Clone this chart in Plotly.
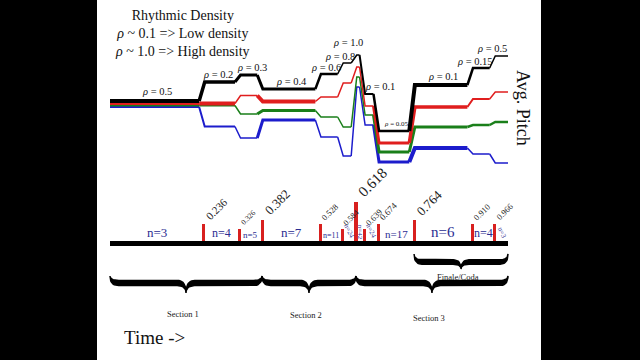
import plotly.graph_objects as go

# ---------------- data ----------------
# time boundaries (fraction of the piece) where the rhythmic density changes
bounds = [0.0, 0.236, 0.326, 0.382, 0.528, 0.584, 0.618, 0.639, 0.674, 0.764, 0.910, 0.966, 1.0]
marks = bounds[1:-1]
mark_labels = ["0.236", "0.326", "0.382", "0.528", "0.584", "0.618", "0.639", "0.674", "0.764", "0.910", "0.966"]
mark_heights = [18, 13, 22, 18, 13, 40, 13, 18, 22, 18, 18]

# rhythmic density per segment
rho_values = ["0.5", "0.2", "0.3", "0.4", "0.6", "0.8", "1.0", "0.1", "0.05", "0.1", "0.15", "0.5"]
# number of notes per segment
n_counts = ["3", "4", "5", "7", "11", "24", "42", "24", "17", "6", "4", "3"]

# average pitch of four voices per segment (screen rows, smaller = higher)
pitch_black = [101, 82, 75, 89, 74, 63, 55, 94, 131, 85, 68, 56]
pitch_red = [103.5, 103.5, 95.5, 101.5, 97, 83, 67, 106, 143, 107, 99, 92]
pitch_green = [105.5, 105.5, 114, 110.5, 117, 127, 77, 115, 152, 127, 125, 122]
pitch_blue = [107, 126.5, 138, 120, 137, 156, 87, 125, 162, 148, 154, 163]

sections = ["Section 1", "Section 2", "Section 3"]
section_bounds = [(0.0, 0.382), (0.382, 0.618), (0.618, 1.0)]
coda_label = "Finale/Coda"
coda_bounds = (0.764, 1.0)

# ---------------- styles ----------------
w_black = [4, 3.5, 3, 3, 2.5, 1.5, 1.5, 2, 2.5, 4, 2.5, 1.5]
w_red = [3, 4, 1.5, 4, 1.5, 1.5, 1.5, 1.5, 3, 3.5, 2, 1.5]
w_green = [2, 2, 1.5, 3, 1.5, 1.5, 1.5, 1.5, 3, 3, 2.5, 2.5]
w_blue = [2, 2, 1.5, 3, 1.5, 1.5, 1.5, 1.5, 3, 4, 1.5, 1.5]
rho_align = ["c", "c", "c", "c", "r", "r", "r", "l", "c", "c", "r", "r"]
rho_size = [10.5, 10.5, 10.5, 10.5, 10.5, 10.5, 10.5, 10.5, 7, 10.5, 10.5, 10.5]
rho_dy = [3, 1, 1, 1, 0, 0, 6, 1, 2, 2, 0, 1]
rho_dx = [0, -4, 1, 0, 0, 0, 0, 0, 0, 0, 0, 0]  # pixel nudges
mark_font = [11, 7.5, 13, 8.5, 8, 15, 8.5, 9, 13, 8.5, 8.5]
n_font = [13, 12, 9, 13, 8, 7, 7, 7, 11, 15, 12, 7]
n_angle = [0, 0, 0, 0, 0, 65, 90, 65, 0, 0, 0, 65]

SERIF = "Liberation Serif"
RED = "#d8201f"
NAVY = "#2b2d92"
AXIS_Y = 243.5
PX = 1 / 398.0  # one pixel in time-fraction units

fig = go.Figure()

# ---- pitch lines ----
t0, t1 = 0.012, 0.002
for color, ys, ws in [("#1c1ccc", pitch_blue, w_blue), ("#1a7f1a", pitch_green, w_green),
                      ("#e01e1e", pitch_red, w_red), ("#000000", pitch_black, w_black)]:
    nseg = len(ys)
    for i in range(nseg):
        xs, yy = [], []
        if i > 0:
            xs.append(bounds[i] - t0)
            yy.append(ys[i - 1])
            xs.append(bounds[i] + t1)
            yy.append(ys[i])
        else:
            xs.append(bounds[0])
            yy.append(ys[0])
        xs.append(bounds[i + 1] - (t0 if i < nseg - 1 else 0))
        yy.append(ys[i])
        fig.add_trace(go.Scatter(x=xs, y=yy, mode="lines",
                                 line=dict(color=color, width=ws[i]),
                                 hoverinfo="skip", showlegend=False))

# ---- time axis ----
fig.add_trace(go.Scatter(x=[bounds[0], bounds[-1]], y=[AXIS_Y, AXIS_Y], mode="lines",
                         line=dict(color="black", width=5), hoverinfo="skip", showlegend=False))

# ---- red marker bars ----
fig.add_trace(go.Bar(x=marks, y=[-h for h in mark_heights], base=AXIS_Y - 2,
                     width=[(4 if h >= 40 else 3) * PX for h in mark_heights],
                     marker=dict(color=RED, line=dict(width=0)), hoverinfo="skip", showlegend=False))

annotations = []

# mark labels (rotated)
for t, lab, h, fs in zip(marks, mark_labels, mark_heights, mark_font):
    annotations.append(dict(x=t - 2 * PX, y=AXIS_Y - 2 - h, text=lab, textangle=-45,
                            xanchor="left", yanchor="bottom", showarrow=False, borderpad=0,
                            font=dict(family=SERIF, size=fs, color="#222")))

# n labels
for i, n in enumerate(n_counts):
    xm = (bounds[i] + bounds[i + 1]) / 2
    annotations.append(dict(x=xm, y=AXIS_Y - 3, text="n=" + n, textangle=n_angle[i],
                            xanchor="center", yanchor="bottom", showarrow=False,
                            borderpad=0, font=dict(family=SERIF, size=n_font[i], color=NAVY)))

# rho labels
for i, r in enumerate(rho_values):
    a = rho_align[i]
    if a == "c":
        x, xa = (bounds[i] + bounds[i + 1]) / 2, "center"
    elif a == "r":
        x, xa = bounds[i + 1], "right"
    else:
        x, xa = bounds[i], "left"
    annotations.append(dict(x=x + rho_dx[i] * PX, y=pitch_black[i] - rho_dy[i], text="<i>ρ</i> = " + r,
                            xanchor=xa, yanchor="bottom", showarrow=False, borderpad=0,
                            font=dict(family=SERIF, size=rho_size[i], color="#111")))


# ---- braces ----
def brace(xa, xb, ytop, ymid, ybot, r=0.022, h=2.6):
    xc = (xa + xb) / 2

    def qb(p0, p1, p2, n=10):
        out = []
        for k in range(n + 1):
            s = k / n
            out.append(((1 - s) ** 2 * p0[0] + 2 * (1 - s) * s * p1[0] + s ** 2 * p2[0],
                        (1 - s) ** 2 * p0[1] + 2 * (1 - s) * s * p1[1] + s ** 2 * p2[1]))
        return out

    def edge(m):
        pts = []
        pts += qb((xa, ytop), (xa, ymid + m), (xa + r, ymid + m))
        pts += qb((xc - r, ymid + m), (xc, ymid + m), (xc, ybot))
        pts += qb((xc, ybot), (xc, ymid + m), (xc + r, ymid + m))
        pts += qb((xb - r, ymid + m), (xb, ymid + m), (xb, ytop))
        return pts

    lower = edge(h)
    upper = edge(-h)[::-1]
    pts = lower + upper + [lower[0]]
    return [p[0] for p in pts], [p[1] for p in pts]


for (a, b), name in zip(section_bounds, sections):
    bx, by = brace(a, b, 276, 283, 293)
    fig.add_trace(go.Scatter(x=bx, y=by, mode="lines", fill="toself", fillcolor="black",
                             line=dict(color="black", width=1.5), hoverinfo="skip", showlegend=False))
annotations_sec_y = [314, 315, 318]
for (a, b), name, yy in zip(section_bounds, sections, annotations_sec_y):
    annotations.append(dict(x=(a + b) / 2 - 3 * PX, y=yy, text=name, showarrow=False,
                            xanchor="center", yanchor="middle",
                            font=dict(family=SERIF, size=8.5, color="#222")))

bx, by = brace(coda_bounds[0], coda_bounds[1], 254, 262, 269, r=0.02, h=2.2)
fig.add_trace(go.Scatter(x=bx, y=by, mode="lines", fill="toself", fillcolor="black",
                         line=dict(color="black", width=1.5), hoverinfo="skip", showlegend=False))
annotations.append(dict(x=sum(coda_bounds) / 2 - 3 * PX, y=277, text=coda_label, showarrow=False,
                        xanchor="center", yanchor="middle",
                        font=dict(family=SERIF, size=8.5, color="#222")))

# ---- titles ----
annotations.append(dict(xref="paper", yref="paper", x=182 / 640, y=1 - 33 / 360,
                        text="Rhythmic Density<br><i>ρ</i> ~ 0.1 => Low density<br><i>ρ</i> ~ 1.0 => High density",
                        showarrow=False, align="center", xanchor="center", yanchor="middle",
                        font=dict(family=SERIF, size=14, color="#111")))
annotations.append(dict(xref="paper", yref="paper", x=523 / 640, y=1 - 108 / 360,
                        text="Avg. Pitch", textangle=90, showarrow=False,
                        xanchor="center", yanchor="middle",
                        font=dict(family=SERIF, size=18, color="#111")))
annotations.append(dict(xref="paper", yref="paper", x=122 / 640, y=1 - 337 / 360,
                        text="Time ->", xanchor="left", yanchor="middle", showarrow=False,
                        font=dict(family=SERIF, size=19, color="#111")))

xmin = -110 * PX
fig.update_layout(
    width=640, height=360, margin=dict(l=0, r=0, t=0, b=0),
    paper_bgcolor="white", plot_bgcolor="white",
    xaxis=dict(range=[xmin, xmin + 640 * PX], visible=False, fixedrange=True),
    yaxis=dict(range=[360, 0], visible=False, fixedrange=True),
    showlegend=False, annotations=annotations, bargap=0,
    shapes=[
        dict(type="rect", xref="paper", yref="paper", x0=0, x1=97 / 640, y0=0, y1=1,
             fillcolor="black", line=dict(width=0), layer="above"),
        dict(type="rect", xref="paper", yref="paper", x0=541 / 640, x1=1, y0=0, y1=1,
             fillcolor="black", line=dict(width=0), layer="above"),
    ],
)

fig.write_html("out.html", config={"displayModeBar": False},
               post_script="document.body.style.margin='0';document.body.style.overflow='hidden';")
